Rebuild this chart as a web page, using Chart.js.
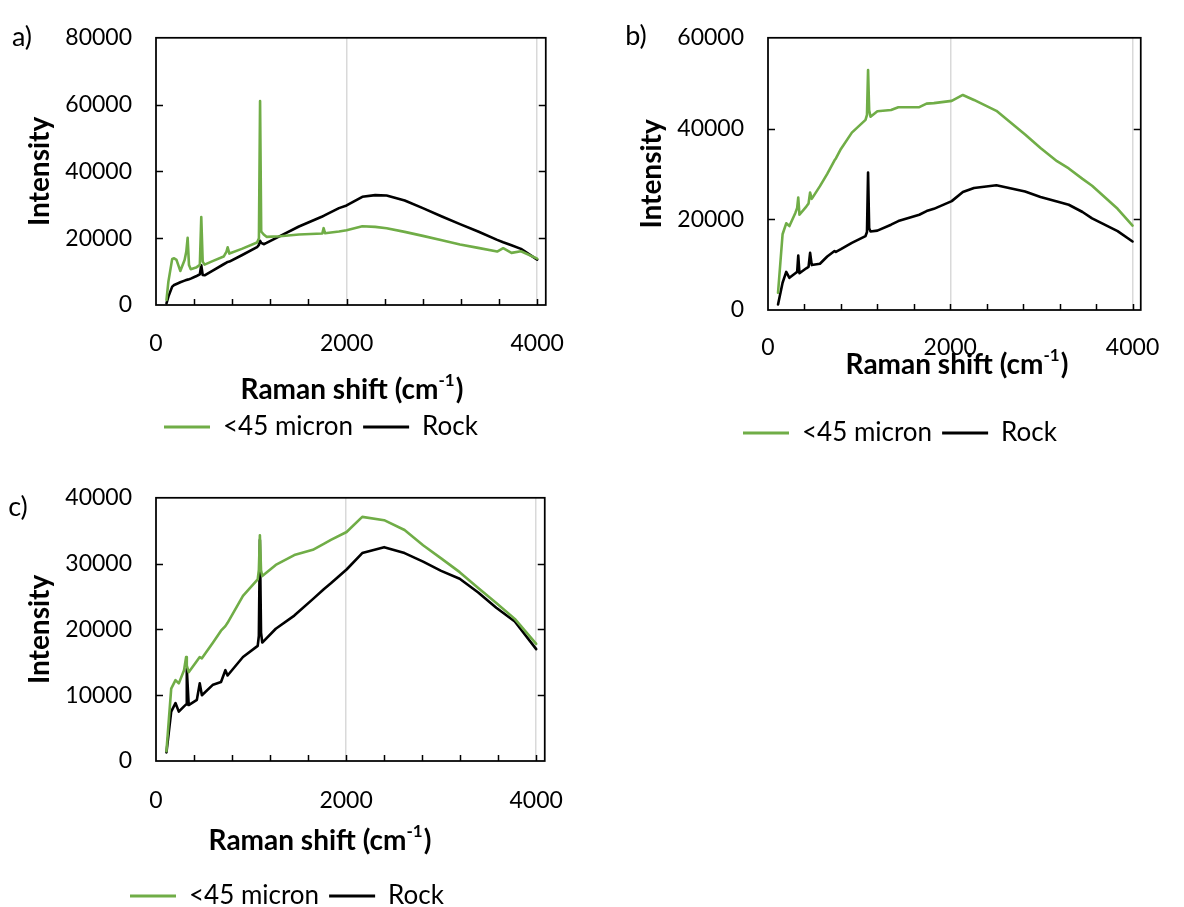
<!DOCTYPE html>
<html>
<head>
<meta charset="utf-8">
<title>Raman spectra</title>
<script src="https://cdn.jsdelivr.net/npm/chart.js@4.4.1/dist/chart.umd.min.js"></script>
<style>
  html, body { margin: 0; padding: 0; background: #fff; overflow: hidden; }
  body { width: 1184px; height: 907px; position: relative; }
  canvas { position: absolute; }
</style>
</head>
<body>
<canvas id="chartA"></canvas>
<canvas id="chartB"></canvas>
<canvas id="chartC"></canvas>
<script>
// panel a) Raman shift (cm-1) and intensities
const shiftA = [110, 130, 170, 190, 215, 255, 300, 318, 332, 346, 365, 420, 460, 475, 490, 510, 600, 710, 740, 752,
  770, 900, 1060, 1080, 1092, 1104, 1130, 1160, 1300, 1500, 1745, 1759, 1773, 1920, 2000, 2165, 2300, 2420, 2610, 2800,
  3000, 3190, 3380, 3580, 3643, 3730, 3830, 4000];
const fineA = [1500, 7000, 13800, 14000, 13500, 10200, 13500, 16000, 20100, 12000, 10700, 11200, 12000, 26300, 13000, 12100, 13200, 14500, 16000, 17300,
  15400, 16800, 18700, 20000, 61100, 22000, 21100, 20400, 20600, 21100, 21400, 23000, 21500, 22000, 22400, 23600, 23400, 23000, 21900, 20700,
  19400, 18100, 17100, 16000, 17000, 15600, 16100, 13900];
const rockA = [500, 2500, 5500, 6000, 6300, 6800, 7300, 7500, 7600, 7700, 7900, 8600, 9200, 11900, 9000, 8900, 10400, 12200, 12700, 12900,
  13000, 14900, 17300, 18000, 19200, 18600, 18200, 18600, 20600, 23500, 26500, 26700, 26900, 29000, 29800, 32400, 32900, 32800, 31300, 29000,
  26500, 24200, 22000, 19500, 18800, 17900, 16800, 13600];

// panel b)
const shiftB = [110, 160, 200, 235, 300, 320, 332, 345, 420, 445, 462, 480, 570, 650, 730, 745, 800, 920, 1070, 1086,
  1098, 1110, 1125, 1200, 1350, 1430, 1660, 1740, 1820, 2016, 2138, 2260, 2506, 2821, 2990, 3171, 3300, 3451, 3556, 3836,
  4000];
const fineB = [3800, 16700, 19100, 18500, 21400, 22500, 24800, 21000, 22800, 23500, 25900, 24500, 27300, 30000, 33000, 33400, 35500, 39100, 41900, 43000,
  52900, 44000, 42600, 43800, 44100, 44700, 44700, 45500, 45600, 46100, 47400, 46300, 43900, 38700, 35700, 32800, 31200, 28900, 27400, 22300,
  18600];
const rockB = [1200, 6000, 8400, 7100, 8100, 8400, 12000, 8100, 9200, 9500, 12600, 9900, 10200, 11800, 13000, 12800, 13400, 14800, 16300, 17200,
  30300, 18000, 17300, 17500, 18800, 19600, 21000, 21800, 22300, 24000, 26000, 26900, 27500, 26100, 24900, 23900, 23200, 21600, 20200, 17400,
  15100];

// panel c)
const shiftC = [110, 160, 205, 240, 295, 317, 324, 344, 430, 460, 483, 600, 684, 730, 753, 915, 1070, 1082, 1093, 1105,
  1118, 1260, 1455, 1650, 1765, 1840, 2005, 2170, 2400, 2615, 2810, 3000, 3195, 3390, 3580, 3775, 4000];
const fineC = [1500, 11000, 12300, 11800, 13800, 15800, 14500, 13500, 15200, 15800, 15600, 18000, 19800, 20500, 21000, 25100, 27600, 29000, 34300, 29000,
  28100, 29800, 31300, 32100, 33000, 33600, 34800, 37100, 36600, 35100, 32800, 30800, 28700, 26300, 24000, 21600, 17800];
const rockC = [1300, 7500, 8800, 7500, 8300, 8600, 14000, 8500, 9300, 11800, 10000, 11600, 12000, 13800, 13000, 15800, 17500, 19000, 33600, 19500,
  18000, 20100, 22100, 24600, 26100, 27000, 29100, 31600, 32500, 31600, 30300, 28900, 27700, 25600, 23300, 21200, 17000];

const seriesNames = ['<45 micron', 'Rock'];
const xTicks = [0, 2000, 4000];
const xMinor = [400, 800, 1200, 1600, 2000, 2400, 2800, 3200, 3600, 4000];
const yTicksA = [0, 20000, 40000, 60000, 80000];
const yTicksB = [0, 20000, 40000, 60000];
const yTicksC = [0, 10000, 20000, 30000, 40000];

const GREEN = '#70ad47';
const BLACK = '#000000';

// page positions of each panel (px)
const panels = [
  { id: 'chartA', letter: 'a)', left: 0, top: 0, width: 590,
    area: { left: 156, top: 23, right: 548, bottom: 305 },
    shift: shiftA, fine: fineA, rock: rockA, yMax: 80000, yTicks: yTicksA,
    yTitleX: 40, xLabelY: 344, xTitle: [352, 390], legend: [164, 427], letterAt: [22, 37] },
  { id: 'chartB', letter: 'b)', left: 600, top: 0, width: 584,
    area: { left: 768, top: 23, right: 1158, bottom: 310 },
    shift: shiftB, fine: fineB, rock: rockB, yMax: 60000, yTicks: yTicksB,
    yTitleX: 652, xLabelY: 348, xTitle: [957, 365], legend: [743, 433], letterAt: [636, 36] },
  { id: 'chartC', letter: 'c)', left: 0, top: 460, width: 590,
    area: { left: 156, top: 494, right: 548, bottom: 761 },
    shift: shiftC, fine: fineC, rock: rockC, yMax: 40000, yTicks: yTicksC,
    yTitleX: 40, xLabelY: 801, xTitle: [320, 841], legend: [130, 896], letterAt: [18, 507] }
];

const panelDeco = {
  id: 'panelDeco',
  afterLayout(chart, args, o) {
    const lg = chart.legend;
    if (!lg) return;
    const dx = o.legendX - (lg.left + lg.options.labels.padding);
    lg.left += dx;
    lg.right += dx;
  },
  afterDraw(chart, args, o) {
    const { ctx, chartArea: a, scales: { x, y } } = chart;
    ctx.save();
    ctx.strokeStyle = '#000';
    ctx.lineWidth = 1.75;
    ctx.strokeRect(a.left, a.top, a.right - a.left, a.bottom - a.top);

    // inward tick marks
    ctx.lineWidth = 1.5;
    ctx.beginPath();
    xMinor.forEach(v => {
      const px = Math.round(x.getPixelForValue(v)) + 0.5;
      ctx.moveTo(px, a.bottom);
      ctx.lineTo(px, a.bottom - 6);
    });
    o.yTicks.forEach(v => {
      if (v <= y.min || v >= y.max) return;
      const py = Math.round(y.getPixelForValue(v)) + 0.5;
      ctx.moveTo(a.left, py); ctx.lineTo(a.left + 7, py);
      ctx.moveTo(a.right, py); ctx.lineTo(a.right - 7, py);
    });
    ctx.stroke();

    ctx.fillStyle = '#000';
    ctx.textBaseline = 'middle';
    ctx.textAlign = 'center';
    ctx.font = '27px Lato';
    ctx.fillText(o.letter, o.letterX, o.letterY);

    // x axis title with superscript -1
    const big = 'bold 28px Lato', small = 'bold 17px Lato';
    const t1 = 'Raman shift (cm', t2 = '-1', t3 = ')';
    ctx.textAlign = 'left';
    ctx.font = big;
    const w1 = ctx.measureText(t1).width, w3 = ctx.measureText(t3).width;
    ctx.font = small;
    const w2 = ctx.measureText(t2).width + 1;
    let sx = o.titleX - (w1 + w2 + w3) / 2;
    ctx.font = big;
    ctx.fillText(t1, sx, o.titleY);
    ctx.font = small;
    ctx.fillText(t2, sx + w1, o.titleY - 9);
    ctx.font = big;
    ctx.fillText(t3, sx + w1 + w2, o.titleY);
    ctx.restore();
  }
};

function build(p) {
  const cv = document.getElementById(p.id);
  const legendFont = 26, legendPad = 10;
  const legendTop = p.legend[1] - legendPad - legendFont / 2;
  const height = Math.round(legendTop + legendFont + 2 * legendPad - p.top);
  cv.width = p.width;
  cv.height = height;
  cv.style.left = p.left + 'px';
  cv.style.top = p.top + 'px';
  cv.style.width = p.width + 'px';
  cv.style.height = height + 'px';

  const tickSize = 23;
  const yWidth = p.area.left - p.left;
  const xHeight = legendTop - p.area.bottom;
  const xTickPad = p.xLabelY - p.area.bottom - tickSize * 1.2 / 2;
  const yTitlePad = p.yTitleX - p.left - 28 * 1.2 / 2;

  new Chart(cv, {
    type: 'line',
    data: {
      datasets: [
        { label: seriesNames[0], data: p.shift.map((s, i) => ({ x: s, y: p.fine[i] })),
          borderColor: GREEN, backgroundColor: GREEN },
        { label: seriesNames[1], data: p.shift.map((s, i) => ({ x: s, y: p.rock[i] })),
          borderColor: BLACK, backgroundColor: BLACK }
      ]
    },
    options: {
      responsive: false,
      animation: false,
      events: [],
      layout: { padding: { left: 0, top: p.area.top - p.top, right: p.left + p.width - p.area.right, bottom: 0 } },
      elements: {
        line: { borderWidth: 2.6, tension: 0, borderJoinStyle: 'round', borderCapStyle: 'round' },
        point: { radius: 0 }
      },
      scales: {
        x: {
          type: 'linear',
          min: 0,
          max: 4090,
          afterBuildTicks: s => { s.ticks = xTicks.map(v => ({ value: v })); },
          afterFit: s => { s.height = xHeight; },
          ticks: {
            autoSkip: false, maxRotation: 0, padding: xTickPad,
            color: '#000', font: { family: 'Lato', size: tickSize },
            callback: v => String(v)
          },
          grid: {
            drawTicks: false,
            lineWidth: 1.5,
            color: c => (c.tick && c.tick.value === 0 ? 'rgba(0,0,0,0)' : '#d9d9d9')
          },
          border: { display: false }
        },
        y: {
          min: 0,
          max: p.yMax,
          afterBuildTicks: s => { s.ticks = p.yTicks.map(v => ({ value: v })); },
          afterFit: s => { s.width = yWidth; },
          ticks: {
            padding: 24, color: '#000', font: { family: 'Lato', size: tickSize },
            callback: v => String(v)
          },
          grid: { display: false, drawTicks: false },
          border: { display: false },
          title: {
            display: true, text: 'Intensity', color: '#000',
            font: { family: 'Lato', size: 28, weight: 'bold' },
            padding: { top: yTitlePad, bottom: 0 }
          }
        }
      },
      plugins: {
        tooltip: { enabled: false },
        legend: {
          position: 'bottom',
          align: 'start',
          labels: {
            boxWidth: 46, boxHeight: 3, padding: legendPad, color: '#000',
            font: { family: 'Lato', size: legendFont },
            generateLabels: chart => chart.data.datasets.map((d, i) => ({
              text: d.label, fillStyle: d.borderColor, strokeStyle: d.borderColor,
              lineWidth: 0, hidden: false, datasetIndex: i
            }))
          }
        },
        panelDeco: {
          legendX: p.legend[0] - p.left,
          yTicks: p.yTicks,
          letter: p.letter,
          letterX: p.letterAt[0] - p.left,
          letterY: p.letterAt[1] - p.top,
          titleX: p.xTitle[0] - p.left,
          titleY: p.xTitle[1] - p.top
        }
      }
    },
    plugins: [panelDeco]
  });
}

const fontLoads = ['23px Lato', '26px Lato', '27px Lato', 'bold 28px Lato', 'bold 17px Lato']
  .map(f => document.fonts.load(f));
Promise.all(fontLoads).catch(() => null).then(() => panels.forEach(build));
</script>
</body>
</html>
